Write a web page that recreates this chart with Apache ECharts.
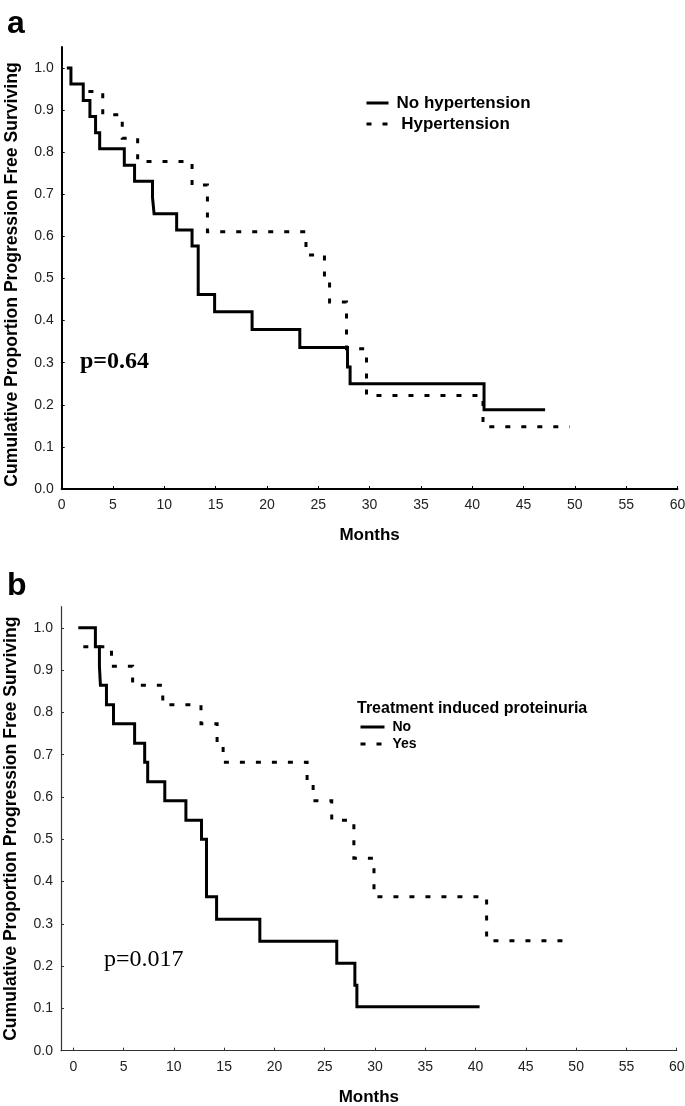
<!DOCTYPE html>
<html><head><meta charset="utf-8">
<script src="https://cdn.jsdelivr.net/npm/echarts@6/dist/echarts.min.js"></script>
<style>html,body{margin:0;padding:0;background:#fff}#c{width:685px;height:1106px}</style>
</head><body><div id="c"></div>
<script>
// ---- data ----
const monthTicks = [0,5,10,15,20,25,30,35,40,45,50,55,60];
const survTicks = [0,0.1,0.2,0.3,0.4,0.5,0.6,0.7,0.8,0.9,1.0];
const xTitle = 'Months';
const yTitle = 'Cumulative Proportion Progression Free Surviving';
const panelALegend = ['No hypertension', ' Hypertension'];
const panelBLegendTitle = 'Treatment induced proteinuria';
const panelBLegend = ['No', 'Yes'];
const pValueA = 'p=0.64';
const pValueB = 'p=0.017';

const aNoHypTime = [0.5,0.9,2.1,2.75,3.3,3.7,6.1,7.1,8.85,9.0,11.2,12.7,13.3,14.9,18.55,23.2,27.85,28.1,41.15,47.1];
const aNoHypSurv = [1.0,0.962,0.923,0.885,0.846,0.808,0.769,0.731,0.692,0.654,0.615,0.577,0.462,0.421,0.379,0.336,0.29,0.25,0.188,0.188];
const aHypTime = [2.6,4.0,5.9,7.4,12.7,14.2,23.8,25.6,26.1,27.75,29.7,41.05,49.5];
const aHypSurv = [0.944,0.889,0.833,0.778,0.722,0.611,0.556,0.5,0.444,0.333,0.222,0.148,0.148];
const bNoTime = [0.5,2.2,2.6,2.7,3.3,4.0,6.1,7.1,7.4,9.1,11.2,12.75,13.25,14.25,18.55,26.2,28.0,28.2,40.4];
const bNoSurv = [1.0,0.955,0.909,0.864,0.818,0.773,0.727,0.682,0.636,0.591,0.545,0.5,0.364,0.311,0.259,0.207,0.155,0.104,0.104];
const bYesTime = [1.0,3.8,5.9,8.9,12.7,14.3,14.9,23.25,23.85,25.7,27.9,29.9,41.1,49.7];
const bYesSurv = [0.955,0.909,0.864,0.818,0.773,0.727,0.682,0.636,0.591,0.545,0.455,0.364,0.26,0.26];

// ---- chart ----
const zip = (t, s) => t.map((v, i) => [v, s[i]]);
const SANS = 'Liberation Sans, Arial, Helvetica, sans-serif';
const SERIF = 'Liberation Serif, Times New Roman, serif';

function xAxisCfg(gi, min, lineColor, lineWidth) {
  return {
    gridIndex: gi, type: 'value', min: min, max: 60,
    axisLine: { show: true, onZero: false, lineStyle: { color: lineColor, width: lineWidth } },
    axisTick: { show: true, inside: true, length: 3, customValues: monthTicks, lineStyle: { color: lineColor, width: 1 } },
    axisLabel: { show: true, customValues: monthTicks, margin: 9, fontSize: 14, color: '#222', fontFamily: SANS },
    splitLine: { show: false },
    name: xTitle, nameLocation: 'middle', nameGap: 38,
    nameTextStyle: { fontSize: 17, fontWeight: 'bold', color: '#000', fontFamily: SANS }
  };
}
function yAxisCfg(gi, lineColor, lineWidth, namePad) {
  return {
    gridIndex: gi, type: 'value', min: 0, max: 1.05,
    axisLine: { show: true, onZero: false, lineStyle: { color: lineColor, width: lineWidth } },
    axisTick: { show: true, inside: true, length: 3, customValues: survTicks, lineStyle: { color: lineColor, width: 1 } },
    axisLabel: { show: true, customValues: survTicks, margin: 8, fontSize: 14, color: '#222', fontFamily: SANS,
      formatter: v => Number(v).toFixed(1) },
    splitLine: { show: false },
    name: yTitle, nameLocation: 'middle', nameRotate: 90, nameGap: 41,
    nameTextStyle: { fontSize: 17.6, fontWeight: 'bold', color: '#000', fontFamily: SANS, padding: namePad }
  };
}
function km(name, data, gi, dashed) {
  return {
    name: name, type: 'line', step: 'end', xAxisIndex: gi, yAxisIndex: gi,
    data: data, symbol: 'none', showSymbol: false, silent: true,
    lineStyle: { color: '#000', width: 3, type: dashed ? [5, 11] : 'solid', cap: 'butt', join: 'miter' },
    itemStyle: { color: '#000' }
  };
}

const chart = echarts.init(document.getElementById('c'), null, { renderer: 'canvas' });
chart.setOption({
  animation: false,
  backgroundColor: '#fff',
  grid: [
    { left: 61.7, right: 7.5, top: 47, bottom: 617, containLabel: false, outerBoundsMode: 'none' },
    { left: 61, right: 8.3, top: 606.7, bottom: 55.3, containLabel: false, outerBoundsMode: 'none' }
  ],
  xAxis: [xAxisCfg(0, 0, '#000', 2), xAxisCfg(1, -1.22, '#333', 1.2)],
  yAxis: [yAxisCfg(0, '#000', 2, [0, 13, 0, 0]), yAxisCfg(1, '#333', 1.2, [0, 0, 0, 0])],
  legend: [
    { data: panelALegend, orient: 'vertical', left: 360, top: 87.5, itemWidth: 22, itemHeight: 14, itemGap: 0,
      selectedMode: false, itemStyle: { opacity: 0 }, lineStyle: { width: 3 },
      textStyle: { fontSize: 17, fontWeight: 'bold', color: '#000', fontFamily: SANS, lineHeight: 21, padding: [0,0,0,3] } },
    { data: panelBLegend, orient: 'vertical', left: 354, top: 713.5, itemWidth: 24, itemHeight: 14, itemGap: 0,
      selectedMode: false, itemStyle: { opacity: 0 }, lineStyle: { width: 3 },
      textStyle: { fontSize: 14, fontWeight: 'bold', color: '#000', fontFamily: SANS, lineHeight: 17, padding: [0,0,0,3] } }
  ],
  graphic: [
    { type: 'text', left: 7, top: 8, style: { text: 'a', fontSize: 32, fontWeight: 'bold', fill: '#000', fontFamily: SANS } },
    { type: 'text', left: 7, top: 570, style: { text: 'b', fontSize: 32, fontWeight: 'bold', fill: '#000', fontFamily: SANS } },
    { type: 'text', x: 80, y: 362, style: { text: pValueA, fontSize: 24, fontWeight: 'bold', fill: '#000', fontFamily: SERIF, verticalAlign: 'middle' } },
    { type: 'text', x: 104, y: 960, style: { text: pValueB, fontSize: 24, fill: '#000', fontFamily: SERIF, verticalAlign: 'middle' } },
    { type: 'text', x: 357, y: 709, style: { text: panelBLegendTitle, fontSize: 16, fontWeight: 'bold', fill: '#000', fontFamily: SANS, verticalAlign: 'middle' } }
  ],
  series: [
    km(panelALegend[0], zip(aNoHypTime, aNoHypSurv), 0, false),
    km(panelALegend[1], zip(aHypTime, aHypSurv), 0, true),
    km(panelBLegend[0], zip(bNoTime, bNoSurv), 1, false),
    km(panelBLegend[1], zip(bYesTime, bYesSurv), 1, true)
  ]
});
</script></body></html>
